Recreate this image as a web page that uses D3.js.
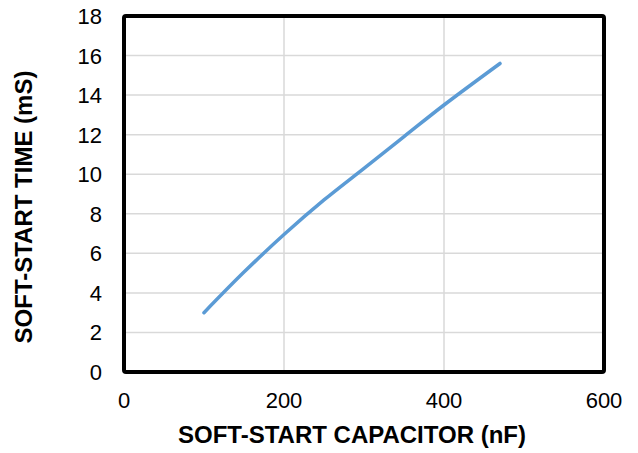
<!DOCTYPE html>
<html>
<head>
<meta charset="utf-8">
<script src="https://cdn.jsdelivr.net/npm/d3@7"></script>
<style>
  body { margin: 0; background: #fff; }
  text { font-family: Arial, "Liberation Sans", sans-serif; }
</style>
</head>
<body>
<div id="chart"></div>
<script>
// Soft-start time vs soft-start capacitor
const capacitance = [100, 150, 200, 250, 300, 350, 400, 470]
const softStartTime = [3.0, 5.05, 6.95, 8.7, 10.3, 11.9, 13.5, 15.6]
const xTicks = [0, 200, 400, 600]
const yTicks = [0, 2, 4, 6, 8, 10, 12, 14, 16, 18]

const width = 638
const height = 453
const margin = { top: 16, right: 34, bottom: 81, left: 124 }

const svg = d3.select('#chart')
  .append('svg')
  .attr('width', width)
  .attr('height', height)

const x = d3.scaleLinear().domain([0, 600]).range([margin.left, width - margin.right])
const y = d3.scaleLinear().domain([0, 18]).range([height - margin.bottom, margin.top])

// Gridlines
svg.append('g')
  .selectAll('line.h')
  .data(yTicks.slice(1, -1))
  .enter().append('line')
  .attr('x1', x(0)).attr('x2', x(600))
  .attr('y1', d => y(d)).attr('y2', d => y(d))
  .attr('stroke', '#d9d9d9')
  .attr('stroke-width', 1.5)

svg.append('g')
  .selectAll('line.v')
  .data(xTicks.slice(1, -1))
  .enter().append('line')
  .attr('x1', d => x(d)).attr('x2', d => x(d))
  .attr('y1', y(0)).attr('y2', y(18))
  .attr('stroke', '#d9d9d9')
  .attr('stroke-width', 1.5)

// Tick labels
svg.append('g')
  .selectAll('text')
  .data(yTicks)
  .enter().append('text')
  .attr('x', x(0) - 22)
  .attr('y', d => y(d) + 8)
  .attr('text-anchor', 'end')
  .attr('font-size', 22)
  .text(d => d)

svg.append('g')
  .selectAll('text')
  .data(xTicks)
  .enter().append('text')
  .attr('x', d => x(d))
  .attr('y', 408)
  .attr('text-anchor', 'middle')
  .attr('font-size', 22)
  .text(d => d)

// Data line (smoothed like the original)
const line = d3.line()
  .x((d, i) => x(capacitance[i]))
  .y(d => y(d))
  .curve(d3.curveCatmullRom.alpha(0.5))

svg.append('path')
  .datum(softStartTime)
  .attr('d', line)
  .attr('fill', 'none')
  .attr('stroke', '#5b9bd5')
  .attr('stroke-width', 3.5)
  .attr('stroke-linecap', 'round')

// Frame
svg.append('rect')
  .attr('x', x(0))
  .attr('y', y(18))
  .attr('width', x(600) - x(0))
  .attr('height', y(0) - y(18))
  .attr('rx', 2)
  .attr('fill', 'none')
  .attr('stroke', '#000')
  .attr('stroke-width', 4)

// Axis titles
svg.append('text')
  .attr('x', 352)
  .attr('y', 443)
  .attr('text-anchor', 'middle')
  .attr('font-size', 24)
  .attr('font-weight', 'bold')
  .text('SOFT-START CAPACITOR (nF)')

svg.append('text')
  .attr('transform', 'translate(32, 207) rotate(-90)')
  .attr('text-anchor', 'middle')
  .attr('font-size', 24)
  .attr('font-weight', 'bold')
  .text('SOFT-START TIME (mS)')
</script>
</body>
</html>
